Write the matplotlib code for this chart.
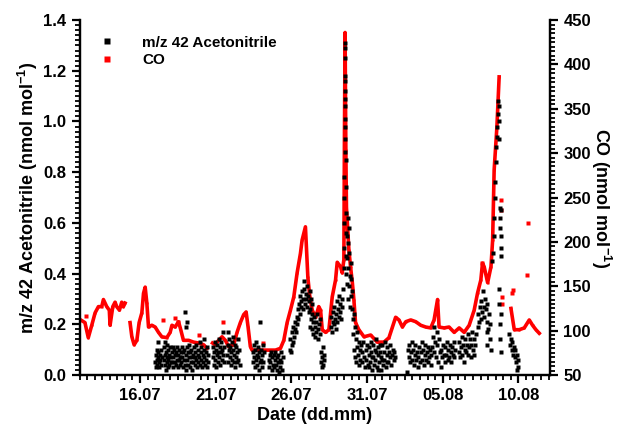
import numpy as np
import matplotlib
matplotlib.use("Agg")
import matplotlib.pyplot as plt
from matplotlib.ticker import MultipleLocator, FixedLocator, FixedFormatter

plt.rcParams['font.family'] = ['Liberation Sans', 'DejaVu Sans']
plt.rcParams['font.weight'] = 'bold'
plt.rcParams['mathtext.fontset'] = 'custom'
plt.rcParams['mathtext.rm'] = 'Liberation Sans:bold'
plt.rcParams['mathtext.default'] = 'rm'

# time axis: day of July (01.08 = 32)
tick_days = [16, 21, 26, 31, 36, 41]
tick_labels = ['16.07', '21.07', '26.07', '31.07', '05.08', '10.08']

# CO trace (nmol/mol), nan = data gap
co_day = [12.08, 12.36, 12.58, 12.81, 13.03, 13.25, 13.47, 13.58, 13.80, 13.97, 14.02, 14.20,
          14.35, 14.46, 14.64, 14.79, 14.90, 15.01, np.nan,
          15.34, 15.46, 15.61, 15.79, 15.94, 16.12, 16.23, 16.34, 16.45, 16.56, 16.78, 17.00,
          17.22, 17.44, 17.77, 17.99, 18.11, 18.32, 18.54, 18.66, 18.87, 19.21, 19.54, 19.87,
          20.20, 20.42, np.nan,
          20.79, 20.97, 21.19, 21.42, 21.64, 21.85, 22.19, 22.41, 22.63, 22.85, 23.01, 23.14,
          23.29, 23.40, 23.84, 24.50, 24.95, 25.28, 25.50, 25.72, 25.94, 26.16, 26.38, 26.60,
          26.71, 26.93, 27.00, 27.09, 27.22, 27.38, 27.60, 27.81, 27.93, 28.04, 28.26, 28.48,
          28.59, 28.70, 28.92, 29.03, 29.25, 29.36, 29.47, 29.51, 29.55, 29.60, 29.64, 29.80,
          29.91, 30.03, 30.13, 30.24, 30.46, 30.80, 31.24, 31.68, 32.12, 32.45, 32.68, 32.89,
          33.11, 33.34, 33.56, 33.89, 34.22, 34.55, 34.88, 35.21, 35.43, 35.66, 35.76, 36.09,
          36.42, 36.76, 37.09, 37.42, 37.75, 38.08, 38.30, 38.52, 38.63, 38.74, 38.97, 39.19,
          39.30, 39.40, 39.58, 39.73, np.nan,
          40.51, 40.73, 41.06, 41.39, 41.72, 41.94, 42.16, 42.38]
co_ppb = [112, 109, 92, 106, 120, 127, 127, 135, 127, 123, 106, 127,
          132, 127, 123, 132, 127, 131, np.nan,
          109, 93, 84, 89, 109, 120, 142, 149, 131, 104, 106, 104,
          98, 93, 92, 98, 106, 104, 110, 103, 89, 89, 87, 86,
          84, 80, np.nan,
          86, 84, 89, 93, 89, 82, 84, 98, 109, 118, 121, 104,
          82, 78, 78, 78, 78, 80, 89, 109, 123, 138, 165, 187,
          202, 217, 191, 160, 138, 123, 115, 127, 123, 101, 98, 101,
          120, 138, 157, 177, 172, 165, 180, 326, 436, 304, 239, 191,
          172, 154, 135, 109, 101, 93, 95, 87, 87, 92, 104, 115,
          112, 104, 110, 112, 110, 106, 104, 103, 112, 135, 104, 103,
          104, 98, 103, 98, 106, 123, 142, 157, 176, 172, 154, 172,
          202, 281, 329, 386, np.nan,
          125, 101, 101, 103, 112, 106, 101, 97]

# isolated CO points off the main trace
co_extra_day = [12.4, 17.5, 18.3, 18.5, 19.9, 21.5, 24.1, 38.6, 39.85, 39.87, 39.9, 39.92,
                40.56, 40.62, 41.57, 41.62]
co_extra_ppb = [116, 112, 114, 110, 95, 110, 86, 176, 247, 236, 138, 130,
                142, 146, 163, 221]

# m/z 42 acetonitrile (nmol/mol)
acn_pts = [
    (17.02, .05), (17.05, .08), (17.08, .03), (17.10, .10), (17.12, .06), (17.15, .04), (17.18, .09),
    (17.20, .13), (17.22, .07), (17.25, .05), (17.28, .03), (17.30, .08), (17.33, .06), (17.36, .10),
    (17.40, .04), (17.43, .07), (17.58, .06), (17.60, .11), (17.63, .04), (17.65, .08), (17.68, .13),
    (17.70, .02), (17.73, .09), (17.76, .05), (17.78, .12), (17.80, .07), (17.83, .03), (17.86, .10),
    (17.88, .06), (17.91, .08), (17.94, .04), (17.97, .11), (18.00, .07), (18.03, .05), (18.08, .09),
    (18.12, .05), (18.15, .11), (18.18, .03), (18.21, .07), (18.25, .10), (18.28, .05), (18.31, .08),
    (18.35, .04), (18.38, .09), (18.41, .06), (18.45, .11), (18.48, .03), (18.51, .08), (18.55, .06),
    (18.58, .10), (18.61, .04), (18.65, .07), (18.68, .09), (18.72, .05), (18.75, .11), (18.78, .07),
    (18.82, .03), (18.85, .09), (18.88, .06), (18.92, .10), (18.95, .25), (19.03, .19), (19.08, .21),
    (19.00, .04), (19.03, .08), (19.06, .02), (19.10, .11), (19.13, .06), (19.16, .09), (19.20, .04),
    (19.23, .12), (19.26, .07), (19.30, .03), (19.33, .09), (19.36, .05), (19.40, .10), (19.43, .07),
    (19.46, .02), (19.50, .08), (19.53, .05), (19.56, .11), (19.60, .07), (19.63, .04), (19.66, .09),
    (19.70, .06), (19.73, .12), (19.76, .03), (19.80, .08), (19.83, .05), (19.86, .10), (19.90, .07),
    (19.93, .13), (19.96, .04), (20.00, .09), (20.03, .06), (20.06, .11), (20.10, .03), (20.13, .08),
    (20.16, .05), (20.20, .10), (20.23, .07), (20.26, .14), (20.30, .04), (20.33, .09), (20.36, .06),
    (20.40, .11), (20.43, .03), (20.46, .08), (20.50, .05),
    (20.80, .07), (20.83, .11), (20.86, .04), (20.90, .09), (20.93, .13), (20.96, .06), (21.00, .10),
    (21.03, .03), (21.06, .08), (21.10, .12), (21.13, .05), (21.16, .09), (21.20, .14), (21.23, .07),
    (21.26, .11), (21.30, .04), (21.33, .09), (21.36, .13), (21.40, .06), (21.43, .10), (21.46, .17),
    (21.50, .08), (21.53, .05), (21.56, .11), (21.75, .08), (21.78, .12), (21.80, .17), (21.83, .05),
    (21.86, .10), (21.90, .14), (21.93, .07), (21.96, .11), (22.00, .04), (22.03, .09), (22.06, .13),
    (22.10, .06), (22.13, .10), (22.16, .15), (22.20, .05), (22.23, .08), (22.26, .12), (22.30, .03),
    (22.33, .07), (22.36, .11), (22.40, .05), (22.43, .09), (22.46, .14), (22.50, .06), (22.55, .10),
    (22.60, .04),
    (23.45, .09), (23.48, .05), (23.51, .12), (23.55, .07), (23.58, .03), (23.61, .10), (23.65, .06),
    (23.68, .13), (23.71, .08), (23.75, .04), (23.78, .11), (23.81, .07), (23.85, .02), (23.88, .09),
    (23.91, .05), (23.95, .21), (23.98, .10), (24.01, .06), (24.05, .03), (24.08, .08), (24.11, .12),
    (24.15, .05), (24.18, .09), (24.50, .06), (24.54, .03), (24.58, .08), (24.62, .05), (24.66, .09),
    (24.70, .02), (24.74, .07), (24.78, .04), (24.82, .08), (24.86, .03), (24.90, .06), (24.94, .09),
    (24.98, .04), (25.02, .07), (25.06, .02), (25.10, .05), (25.14, .08), (25.18, .01), (25.22, .06),
    (25.26, .03), (25.30, .09), (25.34, .05), (25.38, .02), (25.42, .07),
    (25.90, .10), (25.94, .14), (25.98, .09), (26.02, .12), (26.06, .17), (26.10, .13), (26.14, .19),
    (26.18, .15), (26.22, .18), (26.26, .21), (26.30, .17), (26.34, .23), (26.38, .20), (26.42, .26),
    (26.46, .22), (26.50, .28), (26.54, .24), (26.58, .31), (26.62, .27), (26.66, .29), (26.70, .33),
    (26.74, .26), (26.78, .30), (26.82, .37), (26.86, .34), (26.90, .28), (26.94, .32), (26.98, .30),
    (27.02, .35), (27.06, .27), (27.10, .31), (27.14, .25), (27.18, .29), (27.22, .33), (27.26, .26),
    (27.30, .30), (27.34, .24), (27.38, .28), (27.20, .19), (27.28, .22), (27.36, .18), (27.42, .21),
    (27.46, .16), (27.50, .23), (27.54, .19), (27.58, .15), (27.62, .21), (27.66, .17), (27.70, .24),
    (27.74, .18), (27.78, .14), (27.82, .20), (27.86, .16), (27.90, .22), (27.95, .05), (27.98, .09),
    (28.01, .03), (28.04, .07), (28.07, .11), (28.10, .04), (28.13, .08), (28.16, .06),
    (28.60, .19), (28.64, .23), (28.68, .17), (28.72, .21), (28.76, .25), (28.80, .20), (28.84, .27),
    (28.88, .22), (28.92, .18), (28.96, .24), (29.00, .29), (29.04, .21), (29.08, .26), (29.12, .23),
    (29.16, .31), (29.20, .25), (29.24, .28), (29.28, .22), (29.32, .30), (29.36, .27),
    (29.44, .34), (29.46, .42), (29.48, .50), (29.49, .60), (29.50, .70), (29.51, .78), (29.52, .88),
    (29.52, .98), (29.53, 1.06), (29.53, 1.12), (29.54, 1.18), (29.54, 1.25), (29.55, 1.29),
    (29.55, 1.31), (29.56, 1.16), (29.56, 1.09), (29.57, 1.01), (29.57, .93), (29.58, .85),
    (29.59, .74), (29.60, .64), (29.60, .56), (29.61, .47), (29.62, .40), (29.66, .36), (29.68, .55),
    (29.70, .46), (29.72, .62), (29.73, .30), (29.75, .52), (29.76, .42), (29.79, .35), (29.80, .58),
    (29.82, .48), (29.85, .27), (29.88, .39), (29.91, .44), (29.94, .31), (29.97, .38), (30.00, .26),
    (30.03, .33), (30.06, .22), (30.10, .16), (30.13, .24), (30.16, .10), (30.20, .19), (30.23, .07),
    (30.26, .14), (30.30, .05), (30.33, .17), (30.36, .11), (30.40, .08), (30.44, .13), (30.48, .04),
    (30.52, .10), (30.56, .06), (30.60, .12),
    (30.65, .09), (30.70, .05), (30.75, .13), (30.80, .07), (30.85, .03), (30.90, .10), (30.95, .06),
    (31.00, .12), (31.05, .04), (31.10, .08), (31.15, .11), (31.20, .05), (31.25, .09), (31.30, .02),
    (31.35, .07), (31.40, .12), (31.45, .04), (31.50, .10), (31.55, .06), (31.60, .14), (31.65, .03),
    (31.70, .08), (31.75, .11), (31.80, .05), (31.85, .09), (31.90, .02), (31.95, .07), (32.00, .12),
    (32.05, .04), (32.10, .09), (32.15, .06), (32.20, .13), (32.25, .03), (32.30, .08), (32.35, .11),
    (32.40, .05), (32.45, .09), (32.50, .07), (32.55, .12), (32.60, .04), (32.65, .08), (32.70, .10),
    (32.75, .06), (32.80, .09), (32.85, .07), (31.12, .03), (31.42, .07), (31.72, .02), (32.02, .06),
    (32.32, .05), (31.28, .13), (31.58, .09), (31.88, .12), (33.62, .01),
    (33.70, .10), (33.75, .07), (33.80, .12), (33.85, .05), (33.90, .09), (33.95, .13), (34.00, .06),
    (34.05, .10), (34.10, .04), (34.15, .08), (34.20, .12), (34.25, .06), (34.30, .09), (34.35, .03),
    (34.40, .07), (34.45, .11), (34.50, .05), (34.55, .09), (34.60, .13), (34.65, .06), (34.70, .10),
    (34.75, .04), (34.80, .08), (34.85, .12), (34.90, .06), (34.95, .09), (35.00, .05), (35.05, .11),
    (35.10, .07), (35.15, .10), (35.20, .04), (35.25, .08), (35.30, .11), (35.35, .15), (35.40, .09),
    (35.45, .19), (35.50, .13), (35.55, .07), (35.60, .17), (35.65, .12), (35.70, .05), (35.75, .14),
    (35.80, .09), (35.87, .03), (35.92, .10), (35.97, .07), (36.02, .12), (36.07, .08), (36.12, .05),
    (36.17, .11), (36.22, .08), (36.27, .13), (36.32, .06), (36.37, .10), (36.42, .07), (36.47, .12),
    (36.52, .09), (36.57, .05), (36.62, .11), (36.67, .08), (36.72, .13), (36.77, .07), (36.82, .10),
    (37.05, .09), (37.10, .13), (37.15, .07), (37.20, .11), (37.25, .15), (37.30, .08), (37.35, .12),
    (37.40, .05), (37.45, .10), (37.50, .14), (37.55, .09), (37.60, .12), (37.65, .16), (37.70, .08),
    (37.75, .11), (37.80, .14), (37.85, .07), (37.90, .12), (37.95, .17), (38.00, .10), (38.05, .14),
    (38.10, .08), (38.15, .12), (38.20, .16),
    (38.30, .19), (38.35, .24), (38.40, .21), (38.45, .27), (38.50, .22), (38.55, .29), (38.60, .25),
    (38.65, .33), (38.70, .27), (38.75, .23), (38.80, .30), (38.85, .26), (38.90, .21), (38.95, .28),
    (39.00, .18), (39.05, .24), (39.10, .14), (39.15, .20), (39.20, .10), (38.90, .12), (38.92, .17),
    (39.25, .45), (39.30, .48), (39.38, .55), (39.42, .62), (39.45, .70), (39.48, .76), (39.52, .84),
    (39.55, .90), (39.58, .94), (39.62, .98), (39.65, 1.03), (39.68, 1.08), (39.70, 1.06),
    (39.72, 1.00), (39.74, .93), (39.76, .66), (39.78, .62), (39.80, .58), (39.82, .55), (39.84, .65),
    (39.86, .50), (39.88, .47), (39.72, .34), (39.75, .28), (39.78, .20), (39.80, .14), (39.83, .09),
    (39.86, .24),
    (40.40, .16), (40.45, .12), (40.50, .14), (40.55, .10), (40.60, .13), (40.65, .08), (40.70, .11),
    (40.75, .07), (40.80, .10), (40.85, .05), (40.90, .08), (40.95, .03), (41.00, .06), (40.88, .02),
]

acn_day = [p[0] for p in acn_pts]
acn_val = [p[1] for p in acn_pts]

fig = plt.figure(figsize=(6.36, 4.37), dpi=100)
ax1 = fig.add_axes([0.125, 0.142, 0.74, 0.812])
ax2 = ax1.twinx()

ax2.plot(co_day, co_ppb, color='#ff0000', lw=2.6, marker='s', ms=1.8, mec='none')
ax2.plot(co_extra_day, co_extra_ppb, ls='none', color='#ff0000', marker='s', ms=2.4, mec='none')
ax1.plot(acn_day, acn_val, ls='none', color='black', marker='s', ms=2.6, mec='none')

ax1.set_zorder(ax2.get_zorder() + 1)
ax1.patch.set_visible(False)

ax1.set_xlim(12.0, 43.1)
ax1.set_ylim(0, 1.4)
ax2.set_ylim(50, 450)

ax1.xaxis.set_major_locator(FixedLocator(tick_days))
ax1.xaxis.set_major_formatter(FixedFormatter(tick_labels))
ax1.xaxis.set_minor_locator(MultipleLocator(0.5))
ax1.yaxis.set_major_locator(MultipleLocator(0.2))
ax1.yaxis.set_minor_locator(MultipleLocator(0.02))
ax2.yaxis.set_major_locator(MultipleLocator(50))
ax2.yaxis.set_minor_locator(MultipleLocator(5))
ax1.yaxis.set_major_formatter(plt.FuncFormatter(lambda v, p: f'{v:.1f}'))

for ax in (ax1, ax2):
    ax.spines['top'].set_visible(False)
    for s in ax.spines.values():
        s.set_linewidth(1.6)
    ax.tick_params(which='major', direction='out', length=6, width=1.6, labelsize=12)
    ax.tick_params(which='minor', direction='out', length=3.5, width=1.3)

ax1.set_xlabel('Date (dd.mm)', fontsize=13, fontweight='bold', labelpad=3)
ax1.set_ylabel('m/z 42 Acetonitrile (nmol mol$^{-1}$)', fontsize=13, fontweight='bold', labelpad=2)
ax2.set_ylabel('CO (nmol mol$^{-1}$)', fontsize=13, fontweight='bold', rotation=270, labelpad=16)

h1 = ax1.lines[0]
h2 = ax2.lines[0]
leg = ax1.legend([h1, h2], ['m/z 42 Acetonitrile', 'CO'], loc='upper left',
                 bbox_to_anchor=(0.01, 0.995), frameon=False, fontsize=11,
                 handlelength=1.2, handletextpad=1.7, labelspacing=0.25)
leg.legend_handles[1].set_linestyle('none')
leg.legend_handles[1].set_markersize(4)
leg.legend_handles[0].set_markersize(4)

fig.savefig('out.png', dpi=100)
